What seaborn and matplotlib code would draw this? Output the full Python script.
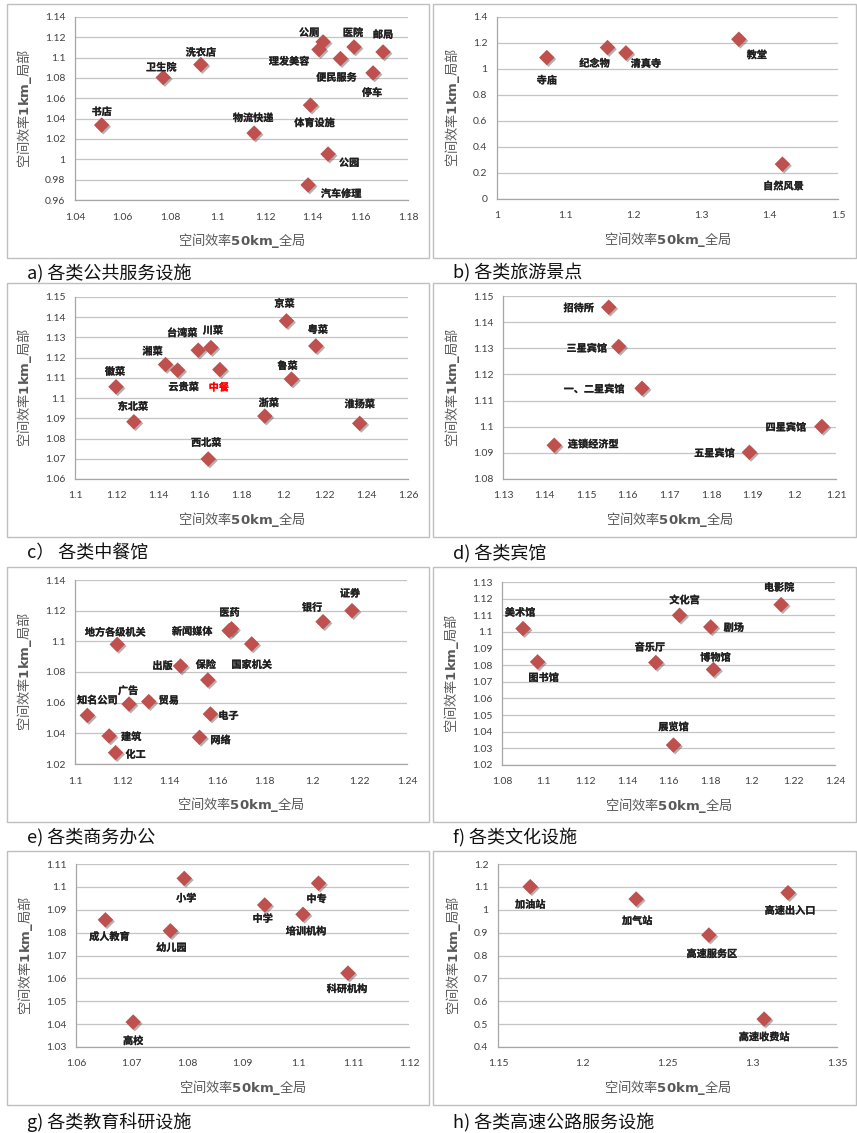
import matplotlib
matplotlib.use("Agg")
import numpy as np
import pandas as pd
import matplotlib.pyplot as plt
import matplotlib.patheffects as pe
from matplotlib.patches import Rectangle
from matplotlib.ticker import FixedLocator, FuncFormatter
import seaborn as sns

# ---------------- data ----------------
# a) 公共服务设施
a_names = ["书店", "卫生院", "洗衣店", "物流快递", "公厕", "理发美容", "医院",
           "便民服务", "邮局", "停车", "体育设施", "公园", "汽车修理"]
a_x = [1.0512, 1.0771, 1.0929, 1.1153, 1.1443, 1.1426, 1.1573,
       1.1516, 1.1695, 1.1653, 1.1390, 1.1464, 1.1380]
a_y = [1.0337, 1.0805, 1.0932, 1.0258, 1.1155, 1.1080, 1.1105,
       1.0991, 1.1056, 1.0850, 1.0533, 1.0052, 0.9748]
a_xticks = [1.04, 1.06, 1.08, 1.10, 1.12, 1.14, 1.16, 1.18]
a_yticks = [0.96, 0.98, 1.00, 1.02, 1.04, 1.06, 1.08, 1.10, 1.12, 1.14]

# b) 旅游景点
b_names = ["寺庙", "纪念物", "清真寺", "教堂", "自然风景"]
b_x = [1.073, 1.162, 1.189, 1.3546, 1.4185]
b_y = [1.088, 1.165, 1.124, 1.229, 0.268]
b_xticks = [1.0, 1.1, 1.2, 1.3, 1.4, 1.5]
b_yticks = [0.0, 0.2, 0.4, 0.6, 0.8, 1.0, 1.2, 1.4]

# c) 中餐馆
c_names = ["京菜", "粤菜", "台湾菜", "川菜", "湘菜", "云贵菜", "中餐", "鲁菜",
           "徽菜", "东北菜", "浙菜", "淮扬菜", "西北菜"]
c_x = [1.2016, 1.2157, 1.1592, 1.1653, 1.1435, 1.1493, 1.1696, 1.2040,
       1.1197, 1.1283, 1.1912, 1.2368, 1.1640]
c_y = [1.1382, 1.1258, 1.1237, 1.1250, 1.1166, 1.1138, 1.1141, 1.1094,
       1.1056, 1.0883, 1.0911, 1.0875, 1.0699]
c_xticks = [1.10, 1.12, 1.14, 1.16, 1.18, 1.20, 1.22, 1.24, 1.26]
c_yticks = [1.06, 1.07, 1.08, 1.09, 1.10, 1.11, 1.12, 1.13, 1.14, 1.15]

# d) 宾馆
d_names = ["招待所", "三星宾馆", "一、二星宾馆", "四星宾馆", "连锁经济型", "五星宾馆"]
d_x = [1.1554, 1.1578, 1.1634, 1.2066, 1.1423, 1.1892]
d_y = [1.1457, 1.1307, 1.1147, 1.1001, 1.0929, 1.0902]
d_xticks = [1.13, 1.14, 1.15, 1.16, 1.17, 1.18, 1.19, 1.20, 1.21]
d_yticks = [1.08, 1.09, 1.10, 1.11, 1.12, 1.13, 1.14, 1.15]

# e) 商务办公
e_names = ["证券", "银行", "医药", "新闻媒体", "国家机关", "地方各级机关", "出版",
           "保险", "知名公司", "广告", "贸易", "电子", "建筑", "网络", "化工"]
e_x = [1.2168, 1.2046, 1.1660, 1.1650, 1.1745, 1.1178, 1.1445,
       1.1560, 1.1052, 1.1228, 1.1311, 1.1571, 1.1144, 1.1525, 1.1171]
e_y = [1.1200, 1.1128, 1.1082, 1.1070, 1.0983, 1.0980, 1.0839,
       1.0748, 1.0517, 1.0591, 1.0607, 1.0526, 1.0383, 1.0374, 1.0274]
e_xticks = [1.10, 1.12, 1.14, 1.16, 1.18, 1.20, 1.22, 1.24]
e_yticks = [1.02, 1.04, 1.06, 1.08, 1.10, 1.12, 1.14]

# f) 文化设施
f_names = ["美术馆", "图书馆", "文化宫", "剧场", "电影院", "音乐厅", "博物馆", "展览馆"]
f_x = [1.0901, 1.0971, 1.1653, 1.1803, 1.2141, 1.1539, 1.1816, 1.1624]
f_y = [1.1020, 1.0820, 1.1100, 1.1030, 1.1164, 1.0816, 1.0774, 1.0320]
f_xticks = [1.08, 1.10, 1.12, 1.14, 1.16, 1.18, 1.20, 1.22, 1.24]
f_yticks = [1.02, 1.03, 1.04, 1.05, 1.06, 1.07, 1.08, 1.09, 1.10, 1.11, 1.12, 1.13]

# g) 教育科研设施
g_names = ["小学", "中专", "中学", "培训机构", "成人教育", "幼儿园", "科研机构", "高校"]
g_x = [1.0795, 1.1037, 1.0940, 1.1009, 1.0653, 1.0770, 1.1090, 1.0703]
g_y = [1.1037, 1.1016, 1.0921, 1.0880, 1.0856, 1.0808, 1.0623, 1.0409]
g_xticks = [1.06, 1.07, 1.08, 1.09, 1.10, 1.11, 1.12]
g_yticks = [1.03, 1.04, 1.05, 1.06, 1.07, 1.08, 1.09, 1.10, 1.11]

# h) 高速公路服务设施
h_names = ["加油站", "加气站", "高速出入口", "高速服务区", "高速收费站"]
h_x = [1.169, 1.2315, 1.3211, 1.2744, 1.307]
h_y = [1.1009, 1.047, 1.0746, 0.8895, 0.522]
h_xticks = [1.15, 1.20, 1.25, 1.30, 1.35]
h_yticks = [0.4, 0.5, 0.6, 0.7, 0.8, 0.9, 1.0, 1.1, 1.2]

captions = ["a) 各类公共服务设施", "b) 各类旅游景点", "c） 各类中餐馆", "d) 各类宾馆",
            "e) 各类商务办公", "f) 各类文化设施", "g) 各类教育科研设施", "h) 各类高速公路服务设施"]

# ---------------- label placement (pixel offsets from each marker) ----------------
a_off = [(0, 13), (-2, 10), (0, 12), (-1, 15), (-14, 9), (-30, -12), (-1, 14),
         (-4, -19), (0, 17), (-1, -20), (4, -18), (21, -9), (33, -9)]
b_off = [(0, -23), (-13, -16), (20, -11), (18, -16), (1, -22)]
c_off = [(-2, 17), (2, 16), (-16, 17), (2, 17), (-13, 13), (6, -17), (-1, -18),
         (-4, 13), (-1, 15), (-1, 15), (4, 13), (0, 19), (-2, 16)]
d_off = [(-30, -1), (-32, -2), (-48, -1), (-36, -1), (39, 1), (-35, -1)]
e_off = [(-2, 17), (-11, 14), (-2, 16), (-37, -1), (0, -21), (-2, 12), (-18, 0),
         (-2, 15), (10, 15), (-1, 13), (20, 1), (18, -2), (22, -1), (21, -3), (20, -2)]
f_off = [(-3, 16), (6, -16), (5, 15), (23, -1), (-2, 17), (-6, 15), (2, 12), (0, 18)]
g_off = [(2, -20), (-2, -16), (-2, -14), (3, -17), (4, -17), (1, -17), (-1, -16), (0, -19)]
h_off = [(0, -18), (1, -22), (2, -18), (3, -19), (0, -18)]

panels = [
    (a_names, a_x, a_y, a_xticks, a_yticks, a_off),
    (b_names, b_x, b_y, b_xticks, b_yticks, b_off),
    (c_names, c_x, c_y, c_xticks, c_yticks, c_off),
    (d_names, d_x, d_y, d_xticks, d_yticks, d_off),
    (e_names, e_x, e_y, e_xticks, e_yticks, e_off),
    (f_names, f_x, f_y, f_xticks, f_yticks, f_off),
    (g_names, g_x, g_y, g_xticks, g_yticks, g_off),
    (h_names, h_x, h_y, h_xticks, h_yticks, h_off),
]

# plot areas in pixels: left, top, right, bottom
W, H = 857, 1133
rects = [(75, 17, 408, 200), (497, 17, 838, 199),
         (75, 297, 408, 479), (503, 296, 836, 479),
         (75, 580, 407, 764), (502, 582, 835, 765),
         (76, 864, 409, 1047), (498, 864, 837, 1047)]
col_x = [(7, 429), (433, 856)]
row_y = [(4, 258), (283, 537), (567, 822), (851, 1105)]
cap_y = [273, 553, 837, 1122]
cap_x = [27, 453]

# ---------------- style ----------------
sns.set_style("white")
plt.rcParams["font.family"] = ["Noto Sans CJK SC", "DejaVu Sans"]
plt.rcParams["mathtext.fontset"] = "custom"
plt.rcParams["mathtext.rm"] = "Noto Sans CJK SC"
plt.rcParams["mathtext.bf"] = "DejaVu Sans:bold"
plt.rcParams["axes.unicode_minus"] = False

RED = "#C0504D"
GRID = "#C4C4C4"
TICK_C = "#404040"
LABEL_C = "#595959"

fig = plt.figure(figsize=(W / 100, H / 100), dpi=100)
fig.patch.set_facecolor("white")


def fmt(v, _pos=None):
    return f"{v:.2f}".rstrip("0").rstrip(".")


shadow = [pe.SimplePatchShadow(offset=(1.2, -1.2), shadow_rgbFace="#555555", alpha=0.45),
          pe.Normal()]

for i, (names, xs, ys, xt, yt, offs) in enumerate(panels):
    l, t, r, b = rects[i]
    ax = fig.add_axes([l / W, 1 - b / H, (r - l) / W, (b - t) / H])
    df = pd.DataFrame({"name": names, "x": xs, "y": ys})
    sns.scatterplot(data=df, x="x", y="y", ax=ax, marker="D", s=62, color=RED,
                    edgecolor="none", linewidth=0, zorder=3, clip_on=False)
    for coll in ax.collections:
        coll.set_path_effects(shadow)

    ax.set_xlim(xt[0], xt[-1])
    ax.set_ylim(yt[0], yt[-1])
    ax.xaxis.set_major_locator(FixedLocator(xt))
    ax.yaxis.set_major_locator(FixedLocator(yt))
    ax.xaxis.set_major_formatter(FuncFormatter(fmt))
    ax.yaxis.set_major_formatter(FuncFormatter(fmt))
    ax.yaxis.grid(True, color=GRID, lw=0.9)
    ax.xaxis.grid(False)
    ax.set_axisbelow(True)
    for side in ("top", "right"):
        ax.spines[side].set_visible(False)
    for side in ("left", "bottom"):
        ax.spines[side].set_color("#A6A6A6")
        ax.spines[side].set_linewidth(0.9)
    ax.tick_params(axis="y", length=0, pad=7, labelsize=7.5, labelcolor=TICK_C)
    ax.tick_params(axis="x", length=0, pad=9, labelsize=7.5, labelcolor=TICK_C)
    for lab in ax.get_xticklabels() + ax.get_yticklabels():
        lab.set_family(["Lato", "DejaVu Sans"])

    ax.set_xlabel(r"空间效率$\mathbf{50km\_}$全局", fontsize=9.5, color=LABEL_C, labelpad=7)
    ax.set_ylabel(r"空间效率$\mathbf{1km\_}$局部", fontsize=9.5, color=LABEL_C, labelpad=8)

    for name, x, y, (dx, dy) in zip(names, xs, ys, offs):
        color = "#FF0000" if name == "中餐" else "#1F1F1F"
        txt = ax.annotate(name, (x, y), xytext=(dx, dy), textcoords="offset pixels",
                          ha="center", va="center", fontsize=7.3, fontweight="bold",
                          color=color, zorder=4, annotation_clip=False)
        txt.set_path_effects([pe.withStroke(linewidth=0.15, foreground=color)])

# panel frames and captions
for ri, (y0, y1) in enumerate(row_y):
    for ci, (x0, x1) in enumerate(col_x):
        fig.add_artist(Rectangle((x0 / W, 1 - y1 / H), (x1 - x0) / W, (y1 - y0) / H,
                                 transform=fig.transFigure, fill=False,
                                 edgecolor="#BFBFBF", lw=1.0))
        fig.text(cap_x[ci] / W, 1 - cap_y[ri] / H, captions[ri * 2 + ci],
                 fontsize=13, va="center", ha="left", color="#111111")

fig.savefig("out.png", dpi=100, facecolor="white")
